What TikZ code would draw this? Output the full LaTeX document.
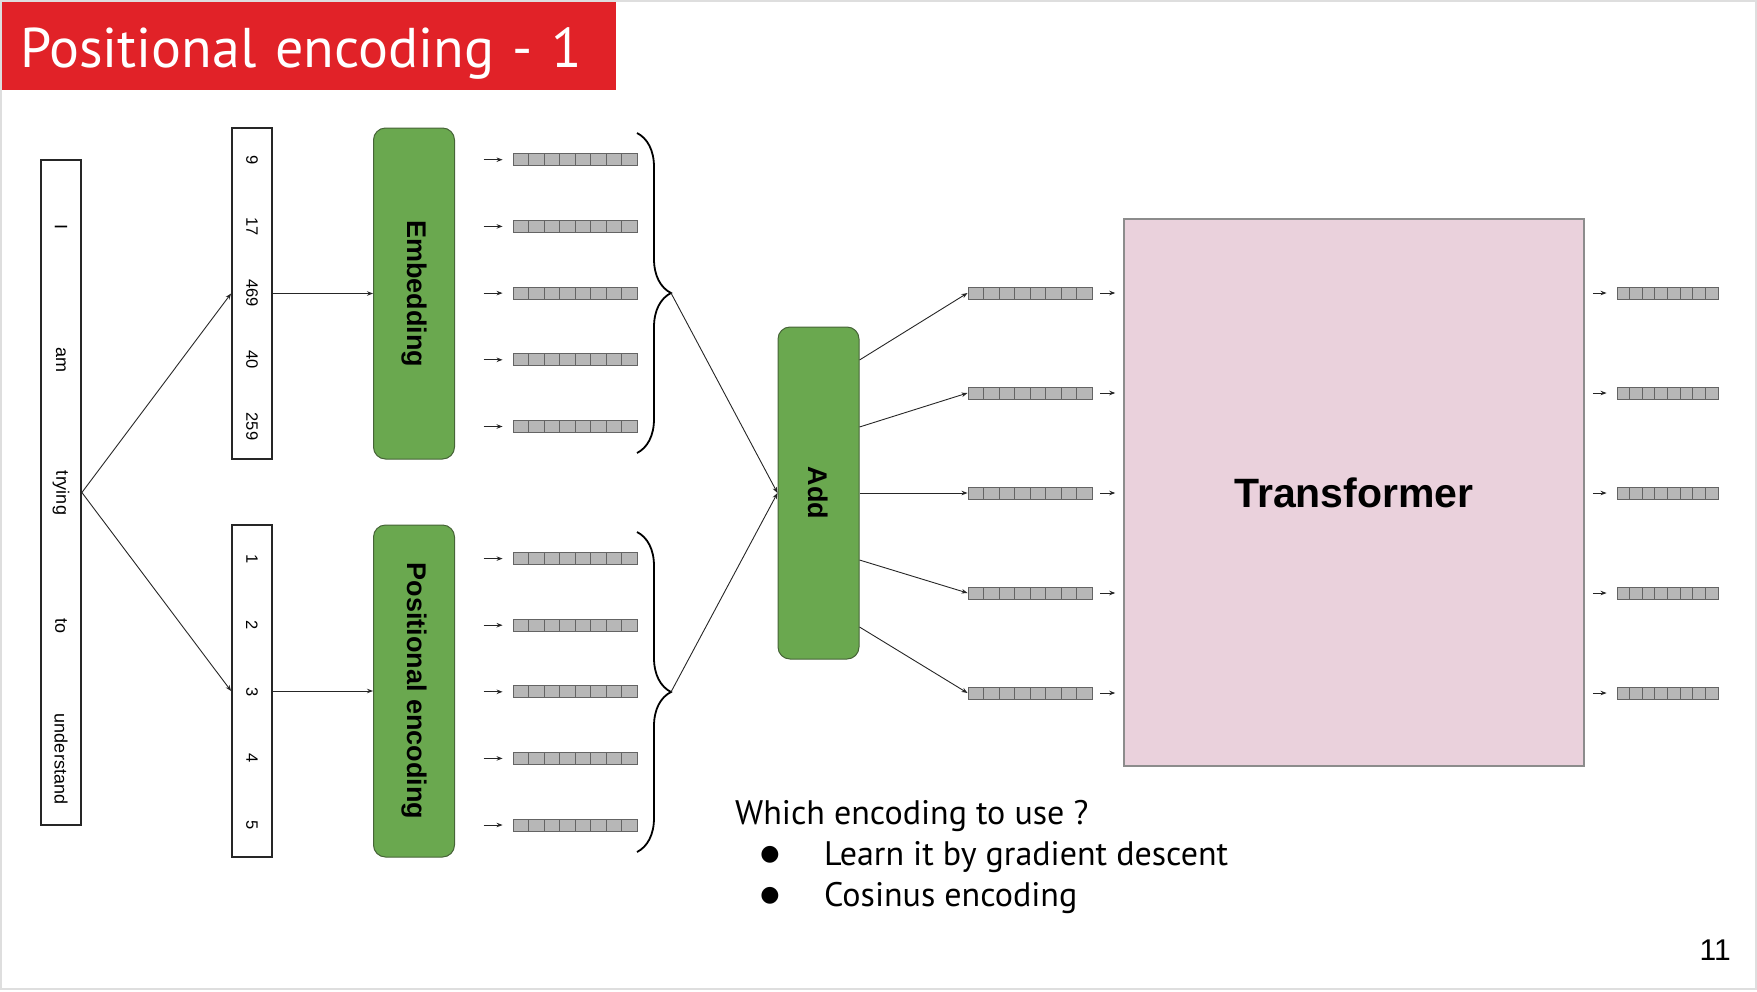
\documentclass[tikz,border=0pt]{standalone}
\usepackage{fontspec}
\setmainfont{Liberation Sans}
\newfontfamily\slidefont{PT Sans}
\newfontfamily\dotfont{DejaVu Sans}
\usetikzlibrary{arrows.meta,positioning,calc,decorations.pathreplacing}
\definecolor{titlered}{RGB}{225,34,40}
\definecolor{addgreen}{RGB}{106,168,79}
\definecolor{greenline}{RGB}{70,100,55}
\definecolor{tfpink}{RGB}{234,209,220}
\definecolor{cellgray}{RGB}{183,183,183}
\definecolor{cellline}{RGB}{100,100,100}
\definecolor{framegray}{RGB}{222,222,222}

\begin{document}
\begin{tikzpicture}[
  x=1pt, y=-1pt,
  >={Stealth[length=6pt,width=4.5pt]},
  listbox/.style={draw=black!85, line width=1.8pt, minimum width=40pt, inner sep=0pt},
  word/.style={rotate=-90, font=\fontsize{18}{20}\selectfont, inner sep=0pt},
  num/.style={rotate=-90, font=\fontsize{16.5}{18}\selectfont, inner sep=0pt},
  greenbox/.style={draw=greenline, fill=addgreen, line width=1pt, rounded corners=12pt, rotate=-90, minimum height=81pt, inner sep=0pt, font=\bfseries\fontsize{27}{30}\selectfont},
  tfbox/.style={draw=black!45, fill=tfpink, line width=1.5pt, minimum width=460pt, minimum height=547pt, font=\bfseries\fontsize{41}{44}\selectfont},
  vecbox/.style={draw=cellline, fill=cellgray, line width=0.9pt, minimum width=#1, minimum height=12pt, inner sep=0pt,
    path picture={\foreach \k in {1,...,7} \draw[cellline, line width=0.9pt] ($(path picture bounding box.south west)!\k/8!(path picture bounding box.south east)$) -- ($(path picture bounding box.north west)!\k/8!(path picture bounding box.north east)$);}},
  vecbox/.default=124pt,
  link/.style={->, line width=0.9pt, black!85},
  bracer/.style={decorate, decoration={brace, amplitude=34pt}, line width=1.8pt},
  slidetext/.style={font=\slidefont\fontsize{34}{40}\selectfont, inner sep=0pt}
]
  \useasboundingbox (0,0) rectangle (1757,991);
  \draw[framegray, line width=2pt] (1,1) rectangle (1756,989);

  % title bar
  \node[fill=titlered, text=white, inner xsep=18pt, inner ysep=0pt, text width=578pt, align=left,
        minimum height=88pt, text height=42pt, text depth=0pt,
        font=\slidefont\fontsize{56}{60}\selectfont] (title) at (309,46) {Positional encoding - 1};

  % sentence, token ids and positions
  \node[listbox, minimum height=665pt] (words) at (61,492.5) {};
  \foreach \w [count=\i] in {I,am,trying,to,understand}
    \node[word] (w\i) at (61,{94+133*\i}) {\w};

  \node[listbox, minimum height=331pt] (nums) at (252,293.5) {};
  \foreach \n [count=\i] in {9,17,469,40,259}
    \node[num] (t\i) at (252,{93+66.7*\i}) {\n};

  \node[listbox, minimum height=332pt] (pos) at (252,691) {};
  \foreach \i in {1,...,5}
    \node[num] (p\i) at (252,{492+66.6*\i}) {\i};

  \draw[link] (words.east) -- (nums.west);
  \draw[link] (words.east) -- (pos.west);

  % embedding and positional encoding
  \node[greenbox, minimum width=331pt] (emb) at (414,293.5) {Embedding};
  \node[greenbox, minimum width=332pt] (penc) at (414,691) {Positional encoding};
  \draw[link] (nums.east) -- (emb.south);
  \draw[link] (pos.east) -- (penc.south);

  \foreach \i in {1,...,5} {
    \node[vecbox] (e\i) at (575,{93+66.7*\i}) {};
    \node[vecbox] (q\i) at (575,{492+66.6*\i}) {};
    \draw[link, shorten <=28.5pt, shorten >=10pt] (emb.north |- e\i.west) -- (e\i.west);
    \draw[link, shorten <=28.5pt, shorten >=10pt] (penc.north |- q\i.west) -- (q\i.west);
  }

  \draw[bracer] (637,133) -- (637,453);
  \draw[bracer] (637,532) -- (637,852);
  \coordinate (embtip) at (671,293);
  \coordinate (pentip) at (671,692);

  % add
  \node[greenbox, minimum width=332pt] (add) at (818.5,493) {Add};
  \draw[link] (embtip) -- (add.south);
  \draw[link] (pentip) -- (add.south);

  \node[tfbox] (tf) at (1354,492.5) {Transformer};

  \foreach \i/\dy in {1/133,2/66,3/0,4/-67,5/-134} {
    \node[vecbox] (m\i) at (1030,{193+100*\i}) {};
    \node[vecbox=101pt] (o\i) at (1667.5,{193+100*\i}) {};
    \draw[link] ([yshift=\dy pt]add.north) -- (m\i.west);
    \draw[link, shorten <=8pt, shorten >=8pt] (m\i.east) -- (m\i.east -| tf.west);
    \draw[link, shorten <=8pt, shorten >=10pt] (tf.east |- o\i.west) -- (o\i.west);
  }

  % question
  \node[slidetext, anchor=base west] (ask) at (735,824) {Which encoding to use ?};
  \node[slidetext, anchor=base west] (opt1) at (824,865) {Learn it by gradient descent};
  \node[slidetext, anchor=base west] (opt2) at (824,906) {Cosinus encoding};
  \node[font=\dotfont\fontsize{22}{24}\selectfont, inner sep=0pt] (dot1) at (770,855) {●};
  \node[font=\dotfont\fontsize{22}{24}\selectfont, inner sep=0pt] (dot2) at (770,896) {●};

  \node[anchor=base east, font=\fontsize{30}{32}\selectfont, inner sep=0pt] (pagenum) at (1731,960) {11};
\end{tikzpicture}
\end{document}
